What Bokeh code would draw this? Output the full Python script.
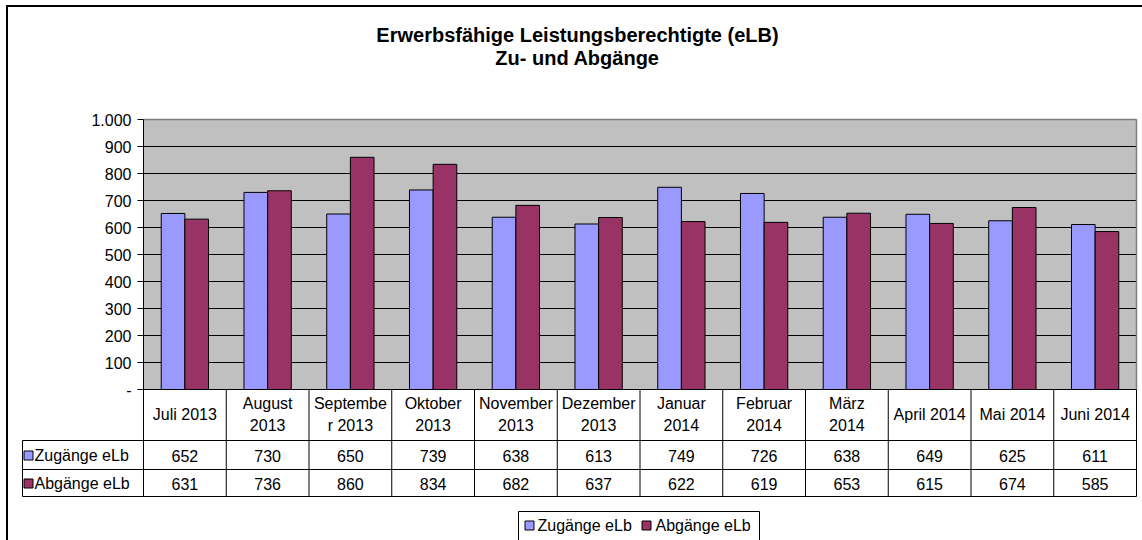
import numpy as np
from bokeh.plotting import figure
from bokeh.models import Range1d
from bokeh.core.properties import value
from bokeh.embed import file_html
from bokeh.resources import INLINE

# ---- data ----
months = ["Juli 2013", "August 2013", "September 2013", "Oktober 2013", "November 2013",
          "Dezember 2013", "Januar 2014", "Februar 2014", "März 2014", "April 2014",
          "Mai 2014", "Juni 2014"]
header_labels = ["Juli 2013", "August\n2013", "Septembe\nr 2013", "Oktober\n2013", "November\n2013",
                 "Dezember\n2013", "Januar\n2014", "Februar\n2014", "März\n2014", "April 2014",
                 "Mai 2014", "Juni 2014"]
zugaenge = [652, 730, 650, 739, 638, 613, 749, 726, 638, 649, 625, 611]
abgaenge = [631, 736, 860, 834, 682, 637, 622, 619, 653, 615, 674, 585]
series_names = ["Zugänge eLb", "Abgänge eLb"]
y_ticks = [0, 100, 200, 300, 400, 500, 600, 700, 800, 900, 1000]
title_lines = ["Erwerbsfähige Leistungsberechtigte (eLB)", "Zu- und Abgänge"]

# ---- layout (page pixels as photographed) ----
W, H = 1142, 540
PX0, PY0 = 0, 0
plot_left, plot_right = 143, 1136
plot_bottom, plot_top = 389, 119
n = len(months)
ymax = 1000

colw = (plot_right - plot_left) / n
xs = (PX0 - plot_left) / colw
xe = (PX0 + W - plot_left) / colw
ys = -(PY0 + H - plot_bottom) / ((plot_bottom - plot_top) / ymax)
ye = (plot_bottom - PY0) / ((plot_bottom - plot_top) / ymax)

FONT = value("Liberation Sans")
FS = "16px"
BLUE, RED, GRAY = "#9999FF", "#993366", "#C0C0C0"

p = figure(width=W - 16, height=H - 16, x_range=Range1d(xs, xe), y_range=Range1d(ys, ye),
           output_backend="svg", toolbar_location=None, min_border=0,
           x_axis_location=None, y_axis_location=None, title=None,
           outline_line_color=None, background_fill_color="white", border_fill_color="white")
p.width = W
p.height = H
p.xgrid.visible = False
p.ygrid.visible = False
p.extra_x_ranges = {"px": Range1d(PX0, PX0 + W)}
p.extra_y_ranges = {"px": Range1d(PY0 + H, PY0)}

# outer frame (left/top visible)
p.line(x=[6.5, 6.5], y=[PY0 + H, 5.5], line_color="black", line_width=2, x_range_name="px", y_range_name="px")
p.line(x=[5.5, PX0 + W], y=[5.5, 5.5], line_color="black", line_width=2, x_range_name="px", y_range_name="px")

# plot area background
p.quad(left=0, right=n, bottom=0, top=ymax, fill_color=GRAY, line_color=None)
# gridlines
grid_vals = [t for t in y_ticks if 0 < t < ymax]
p.segment(x0=[0] * len(grid_vals), x1=[n] * len(grid_vals), y0=grid_vals, y1=grid_vals,
          line_color="black", line_width=1)
p.line(x=[0, n, n], y=[ymax, ymax, 0], line_color="#808080", line_width=1.5)

# bars
idx = np.arange(n)
centers = idx + 0.5
bw = 1 / 3.5
p.vbar(x=centers - bw / 2, width=bw, bottom=0, top=zugaenge, fill_color=BLUE, line_color="black", line_width=1)
p.vbar(x=centers + bw / 2, width=bw, bottom=0, top=abgaenge, fill_color=RED, line_color="black", line_width=1)

# axis line + ticks + labels
p.line(x=[0, 0], y=[0, ymax], line_color="black", line_width=1)
p.segment(x0=[137] * len(y_ticks), x1=[143] * len(y_ticks), y0=y_ticks, y1=y_ticks,
          line_color="black", line_width=1, x_range_name="px")
tick_labels = ["-" if t == 0 else f"{t:,}".replace(",", ".") for t in y_ticks]
p.text(x=[131] * len(y_ticks), y=y_ticks, text=tick_labels, text_font=FONT, text_font_size=FS,
       text_align="right", text_baseline="middle", text_color="black", x_range_name="px")

# data table
row_lines = [440, 469, 496]
p.segment(x0=list(range(n + 1)), x1=list(range(n + 1)), y0=[389] * (n + 1), y1=[496] * (n + 1),
          line_color="black", line_width=1, y_range_name="px")
p.line(x=[0, n], y=[0, 0], line_color="black", line_width=1)
p.segment(x0=[22] * 3, x1=[plot_right] * 3, y0=row_lines, y1=row_lines,
          line_color="black", line_width=1, x_range_name="px", y_range_name="px")
p.line(x=[22, 22], y=[440, 496], line_color="black", line_width=1, x_range_name="px", y_range_name="px")

p.text(x=centers, y=[414] * n, text=header_labels, text_font=FONT, text_font_size=FS,
       text_align="center", text_baseline="middle", text_line_height=1.25, text_color="black",
       y_range_name="px")
row_y = [455, 483]
for vals, ry in zip([zugaenge, abgaenge], row_y):
    p.text(x=centers, y=[ry] * n, text=[str(v) for v in vals], text_font=FONT, text_font_size=FS,
           text_align="center", text_baseline="middle", text_color="black", y_range_name="px")

p.scatter(x=[28, 28], y=row_y, marker="square", size=9, fill_color=[BLUE, RED], line_color="black",
          line_width=1, x_range_name="px", y_range_name="px")
p.text(x=[34, 34], y=row_y, text=series_names, text_font=FONT, text_font_size=FS,
       text_align="left", text_baseline="middle", text_color="black", x_range_name="px", y_range_name="px")

# title
p.text(x=[577, 577], y=[34, 57], text=title_lines, text_font=FONT, text_font_size="20px",
       text_font_style="bold", text_align="center", text_baseline="middle", text_color="black",
       x_range_name="px", y_range_name="px")

# bottom legend
p.line(x=[518, 518, 759, 759], y=[541, 511, 511, 541], line_color="black", line_width=1,
       x_range_name="px", y_range_name="px")
p.scatter(x=[529, 646], y=[525, 525], marker="square", size=9, fill_color=[BLUE, RED], line_color="black",
          line_width=1, x_range_name="px", y_range_name="px")
p.text(x=[537, 655], y=[525, 525], text=series_names, text_font=FONT, text_font_size=FS,
       text_align="left", text_baseline="middle", text_color="black", x_range_name="px", y_range_name="px")

open("out.html", "w").write(file_html(p, INLINE))
